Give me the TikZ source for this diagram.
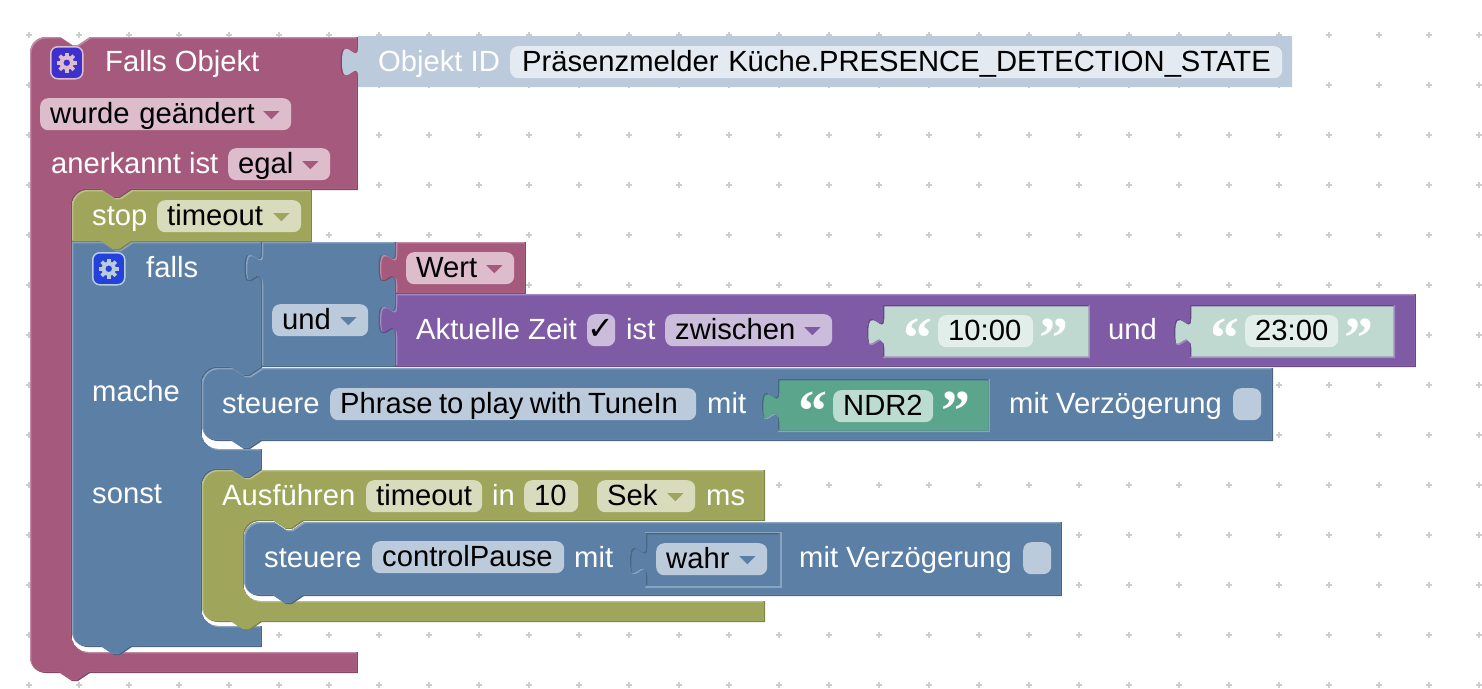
\documentclass[tikz,border=0pt]{standalone}
\usepackage{fontspec}
\usepackage{xcolor}
\setmainfont{Liberation Sans}
\newfontfamily\checkfont{DejaVu Sans}
\newfontfamily\quotefont{Liberation Serif}[Scale=1]

\definecolor{pinkmain}{HTML}{A55A7D}
\definecolor{pinklight}{HTML}{C08AA4}
\definecolor{pinkdark}{HTML}{844864}
\definecolor{pinkfield}{HTML}{DDBCCC}
\definecolor{bluemain}{HTML}{5B7FA5}
\definecolor{bluelight}{HTML}{8AA4C0}
\definecolor{bluedark}{HTML}{496684}
\definecolor{bluefield}{HTML}{BCCBDC}
\definecolor{olivemain}{HTML}{9FA55B}
\definecolor{olivelight}{HTML}{BBC08A}
\definecolor{olivedark}{HTML}{7F8449}
\definecolor{olivefield}{HTML}{D8DBBC}
\definecolor{purplemain}{HTML}{805BA5}
\definecolor{purplelight}{HTML}{A48AC0}
\definecolor{purpledark}{HTML}{664984}
\definecolor{purplefield}{HTML}{CBBCDC}
\definecolor{greenmain}{HTML}{5BA58C}
\definecolor{greenfield}{HTML}{BCDBD1}
\definecolor{mintmain}{HTML}{BFD9D0}
\definecolor{mintfield}{HTML}{E1EEEA}
\definecolor{palemain}{HTML}{BBCBDC}
\definecolor{palefield}{HTML}{E4EAF1}
\definecolor{gridgrey}{HTML}{CDCDCD}
\definecolor{gearblueone}{HTML}{3C30CE}
\definecolor{gearbluetwo}{HTML}{2341DC}

\tikzset{
  lbl/.style={text=white,anchor=base west,inner sep=0pt,font=\fontsize{29.2}{32}\selectfont},
  fieldpill/.style={anchor=north west,inner sep=0pt,rounded corners=8,minimum height=32,
    text height=23pt,text depth=5pt,align=left,text=black,font=\fontsize{29.2}{32}\selectfont},
  iconbox/.style={anchor=north west,minimum size=32,inner sep=0pt,rounded corners=7,line width=1.5},
  quotemark/.style={anchor=base west,inner sep=0pt,text=white,font=\quotefont\bfseries\fontsize{58}{60}\selectfont}
}

% pieces of block outlines
\def\cornTL#1#2{(#1,#2+16) .. controls (#1,#2+7) and (#1+7,#2) .. (#1+16,#2)}
\def\cornBL#1#2{-- (#1+16,#2) .. controls (#1+7,#2) and (#1,#2-7) .. (#1,#2-16)}
\def\innerTL#1#2{-- (#1+16,#2) .. controls (#1+7,#2) and (#1,#2+7) .. (#1,#2+16)}
\def\innerBL#1#2{-- (#1,#2-16) .. controls (#1,#2-7) and (#1+7,#2) .. (#1+16,#2)}
\def\notchtop#1#2{-- (#1,#2) -- (#1+12,#2+8) -- (#1+18,#2+8) -- (#1+30,#2)}
\def\notchbot#1#2{-- (#1+30,#2) -- (#1+18,#2+8) -- (#1+12,#2+8) -- (#1,#2)}
\def\tabup#1#2{-- (#1,#2+30) .. controls (#1,#2+10) and (#1-16,#2+46) .. (#1-16,#2+15) .. controls (#1-16,#2-16) and (#1,#2+20) .. (#1,#2)}

% fill with a top-left and a bottom-right edge, both inside the outline
\newcommand\bevelblock[4]{
  \begin{scope}
    \clip #4;
    \fill[#3] #4;
    \fill[#2,shift={(-1.3,-1.3)}] #4;
    \clip[shift={(-1.3,-1.3)}] #4;
    \fill[#1,shift={(1.3,1.3)}] #4;
  \end{scope}
}
\newcommand\socket[3]{\fill[#1,shift={(-1.5,0)}] (#2,#3) \tabup{#2}{#3} -- cycle;}
\newcommand\blockfield[6]{\node[fieldpill,fill=#2,text width={(#5-20)*1pt},minimum width=#5] (#1) at (#3,#4) {\mbox{#6}};}
\newcommand\ddarrow[2]{\fill[#2] ([xshift=-28pt,yshift=3pt]#1.east) -- ([xshift=-12pt,yshift=3pt]#1.east) -- ([xshift=-20pt,yshift=-5pt]#1.east) -- cycle;}
\newcommand\gearicon[6]{
  \node[iconbox,fill=#2,draw=#3] (#1) at (#5,#6) {};
  \draw[#4,line width=4] (#1.center) circle (5.5);
  \foreach \ang in {0,45,...,315}
    \draw[#4,line width=3.6] (#1.center) ++(\ang:6) -- ++(\ang:4);
}

\begin{document}
\begin{tikzpicture}[x=1pt,y=-1pt]
\useasboundingbox (0,0) rectangle (1482,688);

% grid
\foreach \gx in {29,79,...,1479}
  \foreach \gy in {35,85,...,685}
    \draw[gridgrey,line width=1.8] (\gx-3,\gy) -- (\gx+3,\gy) (\gx,\gy-3) -- (\gx,\gy+3);

% event block
\bevelblock{pinkmain}{pinklight}{pinkdark}{\cornTL{30}{37} \notchtop{60}{37} -- (358,37) -- (358,190)
  \notchbot{102}{190} \innerTL{72}{190} \innerBL{72}{652} -- (358,652) -- (358,673)
  \notchbot{60}{673} \cornBL{30}{673} -- cycle}

% object id
\socket{pinkdark}{358}{47}
\fill[palemain] (358,36) -- (1292,36) -- (1292,87) -- (358,87) -- (358,77) \tabup{358}{47} -- cycle;

% if block
\bevelblock{bluemain}{bluelight}{bluedark}{(72,242) \notchtop{102}{242} -- (262,242) -- (262,368)
  \notchbot{232}{368} \innerTL{202}{368} \innerBL{202}{449} -- (262,449) -- (262,470)
  \notchbot{232}{470} \innerTL{202}{470} \innerBL{202}{626} -- (262,626) -- (262,647)
  \notchbot{102}{647} \cornBL{72}{647} -- cycle}

% and block with its two inputs
\socket{bluedark}{262}{253}
\bevelblock{bluemain}{bluelight}{bluedark}{(262,242) -- (396,242) -- (396,367) -- (262,367) -- (262,283) \tabup{262}{253} -- cycle}
\socket{bluedark}{396}{253}
\bevelblock{pinkmain}{pinklight}{pinkdark}{(396,242) -- (526,242) -- (526,294) -- (396,294) -- (396,283) \tabup{396}{253} -- cycle}
\socket{bluedark}{396}{305}
\bevelblock{purplemain}{purplelight}{purpledark}{(396,294) -- (1416,294) -- (1416,367) -- (396,367) -- (396,335) \tabup{396}{305} -- cycle}
\bevelblock{mintmain}{purpledark}{purplelight}{(883,305) -- (1090,305) -- (1090,358) -- (883,358) -- (883,347) \tabup{883}{317} -- cycle}
\bevelblock{mintmain}{purpledark}{purplelight}{(1190,305) -- (1395,305) -- (1395,358) -- (1190,358) -- (1190,347) \tabup{1190}{317} -- cycle}

% first control block
\bevelblock{bluemain}{bluelight}{bluedark}{\cornTL{202}{368} \notchtop{232}{368} -- (1273,368) -- (1273,441)
  \notchbot{232}{441} \cornBL{202}{441} -- cycle}
\bevelblock{greenmain}{bluedark}{bluelight}{(778,379) -- (990,379) -- (990,432) -- (778,432) -- (778,421) \tabup{778}{391} -- cycle}

% timeout block
\bevelblock{olivemain}{olivelight}{olivedark}{\cornTL{202}{470} \notchtop{232}{470} -- (765,470) -- (765,521)
  \notchbot{274}{521} \innerTL{244}{521} \innerBL{244}{601} -- (765,601) -- (765,622)
  \notchbot{232}{622} \cornBL{202}{622} -- cycle}

% second control block
\bevelblock{bluemain}{bluelight}{bluedark}{\cornTL{244}{522} \notchtop{274}{522} -- (1062,522) -- (1062,596)
  \notchbot{274}{596} \cornBL{244}{596} -- cycle}
\bevelblock{bluemain}{bluedark}{bluelight}{(646,533) -- (781,533) -- (781,587) -- (646,587) -- (646,576) \tabup{646}{546} -- cycle}
\draw[bluelight,line width=1.2] (645,532.5) -- (781.5,532.5) -- (781.5,587.5) -- (645,587.5);

% stop block
\bevelblock{olivemain}{olivelight}{olivedark}{\cornTL{72}{190} \notchtop{102}{190} -- (312,190) -- (312,242)
  \notchbot{102}{242} -- (72,242) -- cycle}

% icons
\gearicon{gearone}{gearblueone}{pinkfield}{pinkfield}{50}{46}
\gearicon{geartwo}{gearbluetwo}{bluefield}{bluefield}{92}{252}

% labels of the event block
\node[lbl] (fallsobj) at (105,71) {Falls Objekt};
\node[lbl] (objid) at (378,71) {Objekt ID};
\blockfield{objname}{palefield}{510}{46}{772}{\hspace{2pt}Präsenzmelder Küche.PRESENCE\_DETECTION\_STATE}
\blockfield{changed}{pinkfield}{40}{98}{251}{wurde geändert}
\ddarrow{changed}{pinkmain}
\node[lbl] (ack) at (51,173) {anerkannt ist};
\blockfield{egal}{pinkfield}{228}{148}{102}{egal}
\ddarrow{egal}{pinkmain}

% labels of the stop block
\node[lbl] (stoplbl) at (92,225) {stop};
\blockfield{stopname}{olivefield}{157}{200}{144}{timeout}
\ddarrow{stopname}{olivemain}

% labels of the if block
\node[lbl] (falls) at (146,277) {falls};
\node[lbl] (mache) at (92,401) {mache};
\node[lbl] (sonst) at (92,503) {sonst};
\blockfield{und}{bluefield}{272}{304}{96}{und}
\ddarrow{und}{bluemain}
\blockfield{wert}{pinkfield}{406}{252}{108}{Wert}
\ddarrow{wert}{pinkmain}

% labels of the time block
\node[lbl] (zeit) at (416,339) {Aktuelle Zeit};
\node[fieldpill,fill=purplefield,minimum width=28,font=\checkfont\bfseries\fontsize{32}{34}\selectfont] (check) at (587,314) {✓};
\node[lbl] (ist) at (626,339) {ist};
\blockfield{between}{purplefield}{665}{314}{167}{zwischen}
\ddarrow{between}{purplemain}
\node[quotemark] (qa) at (903,357) {“};
\blockfield{from}{mintfield}{938}{315}{95}{10:00}
\node[quotemark] (qb) at (1039,357) {”};
\node[lbl] (undzeit) at (1108,339) {und};
\node[quotemark] (qc) at (1210,357) {“};
\blockfield{to}{mintfield}{1245}{315}{93}{23:00}
\node[quotemark] (qd) at (1344,357) {”};

% labels of the first control block
\node[lbl] (steuerea) at (222,413) {steuere};
\blockfield{phrase}{bluefield}{330}{388}{366}{\spaceskip=6.4pt Phrase to play with TuneIn}
\node[lbl] (mita) at (707,413) {mit};
\node[quotemark] (qe) at (798,430) {“};
\blockfield{ndr}{greenfield}{833}{390}{100}{NDR2}
\node[quotemark] (qf) at (941,430) {”};
\node[lbl] (verza) at (1009,413) {mit Verzögerung};
\node[fieldpill,fill=bluefield,minimum width=28] (boxa) at (1233,388) {};

% labels of the timeout block
\node[lbl] (ausf) at (222,505) {Ausführen};
\blockfield{toname}{olivefield}{366}{480}{116}{timeout}
\node[lbl] (inlbl) at (492,505) {in};
\blockfield{ten}{olivefield}{524}{480}{54}{10}
\blockfield{sek}{olivefield}{597}{480}{98}{Sek}
\ddarrow{sek}{olivemain}
\node[lbl] (ms) at (706,505) {ms};

% labels of the second control block
\node[lbl] (steuereb) at (264,567) {steuere};
\blockfield{pause}{bluefield}{372}{541}{192}{controlPause}
\node[lbl] (mitb) at (574,567) {mit};
\blockfield{wahr}{bluefield}{656}{543}{111}{wahr}
\ddarrow{wahr}{bluemain}
\node[lbl] (verzb) at (799,567) {mit Verzögerung};
\node[fieldpill,fill=bluefield,minimum width=28] (boxb) at (1023,542) {};

\end{tikzpicture}
\end{document}
